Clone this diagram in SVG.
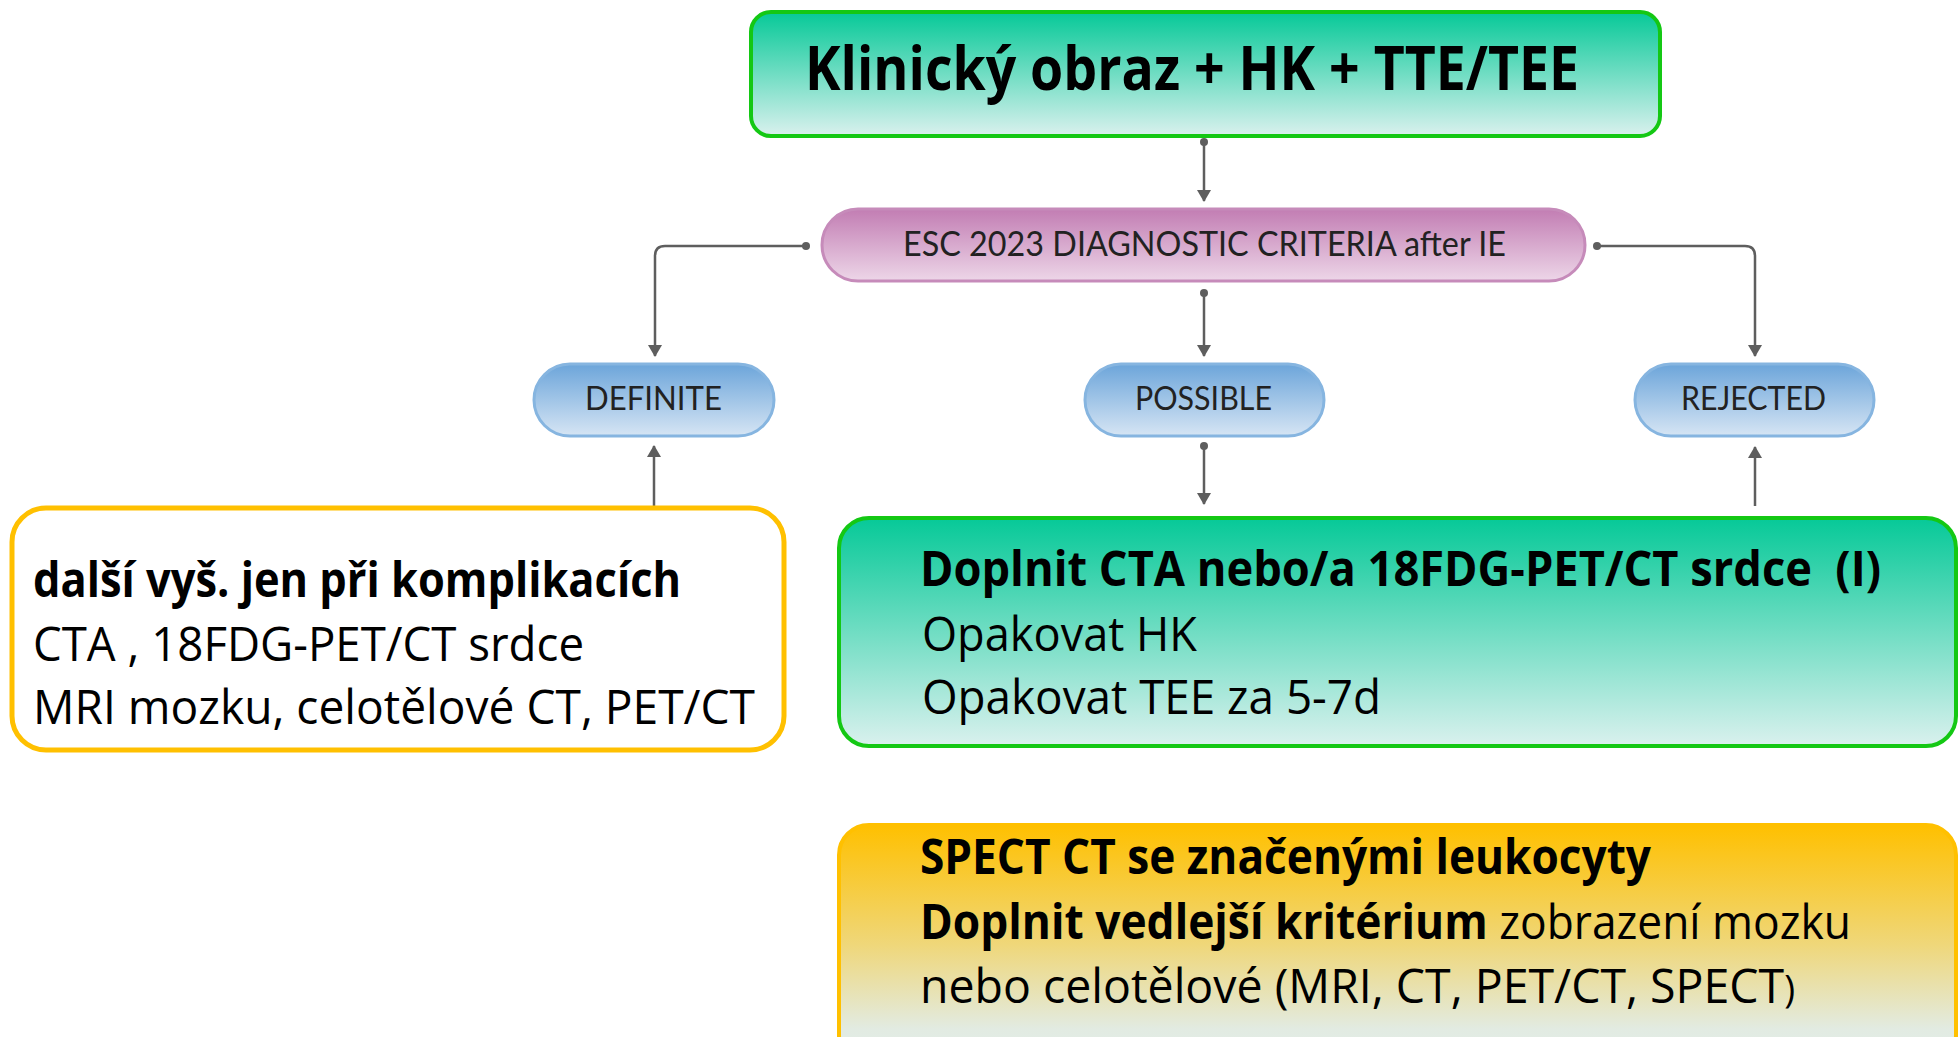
<svg xmlns="http://www.w3.org/2000/svg" width="1959" height="1037" viewBox="0 0 1959 1037">
<defs>
<linearGradient id="gGreen" x1="0" y1="0" x2="0" y2="1">
<stop offset="0" stop-color="#06C998"/>
<stop offset="1" stop-color="#DAF1EE"/>
</linearGradient>
<linearGradient id="gYellow" x1="0" y1="0" x2="0" y2="1">
<stop offset="0" stop-color="#FFC000"/>
<stop offset="0.5" stop-color="#EFD77A"/>
<stop offset="0.85" stop-color="#E2EBE2"/>
<stop offset="1" stop-color="#E2EEEA"/>
</linearGradient>
<linearGradient id="gPink" x1="0" y1="0" x2="0" y2="1">
<stop offset="0" stop-color="#C27DB3"/>
<stop offset="1" stop-color="#EDD6E8"/>
</linearGradient>
<linearGradient id="gBlue" x1="0" y1="0" x2="0" y2="1">
<stop offset="0" stop-color="#6CA5DA"/>
<stop offset="1" stop-color="#D6E5F4"/>
</linearGradient>
<marker id="arr" viewBox="0 0 12 14" refX="11" refY="7" markerWidth="12" markerHeight="14" markerUnits="userSpaceOnUse" orient="auto">
<path d="M0,0 L12,7 L0,14 Z" fill="#5E5E5E"/>
</marker>
</defs>
<style>
.cal{font-family:"Open Sans","Noto Sans",sans-serif;fill:#000}
.b{font-weight:bold}
.gill{font-family:Lato,"Open Sans",sans-serif;fill:#222222}
.con{fill:none;stroke:#5E5E5E;stroke-width:2.5}
.dot{fill:#5E5E5E}
.pill{fill:url(#gBlue);stroke:#86B5E0;stroke-width:3}
</style>
<rect width="1959" height="1037" fill="#FFFFFF"/>

<g id="connectors">
<circle class="dot" cx="1204" cy="142" r="4"/>
<line class="con" x1="1204" y1="142" x2="1204" y2="201" marker-end="url(#arr)"/>
<circle class="dot" cx="806" cy="246" r="4"/>
<path class="con" d="M806,246 H665 Q655,246 655,256 V356" marker-end="url(#arr)"/>
<circle class="dot" cx="1597" cy="246" r="4"/>
<path class="con" d="M1597,246 H1745 Q1755,246 1755,256 V356" marker-end="url(#arr)"/>
<circle class="dot" cx="1204" cy="293" r="4"/>
<line class="con" x1="1204" y1="293" x2="1204" y2="356" marker-end="url(#arr)"/>
<line class="con" x1="654" y1="506" x2="654" y2="446" marker-end="url(#arr)"/>
<circle class="dot" cx="1204" cy="446" r="4"/>
<line class="con" x1="1204" y1="446" x2="1204" y2="504" marker-end="url(#arr)"/>
<line class="con" x1="1755" y1="506" x2="1755" y2="447" marker-end="url(#arr)"/>
</g>

<g id="top">
<rect x="751" y="12" width="909" height="124" rx="20" fill="url(#gGreen)" stroke="#14C814" stroke-width="4"/>
<text class="cal b" x="805" y="90" font-size="61" textLength="774" lengthAdjust="spacingAndGlyphs">Klinický obraz + HK + TTE/TEE</text>
</g>

<g id="esc">
<rect x="822" y="209" width="763" height="72" rx="36" fill="url(#gPink)" stroke="#C68BBA" stroke-width="3"/>
<text class="gill" x="903" y="256" font-size="34" textLength="603" lengthAdjust="spacingAndGlyphs">ESC 2023 DIAGNOSTIC CRITERIA after IE</text>
</g>

<g id="definite">
<rect class="pill" x="534" y="364" width="240" height="72" rx="36"/>
<text class="gill" x="585" y="410" font-size="32" textLength="137" lengthAdjust="spacingAndGlyphs">DEFINITE</text>
</g>

<g id="possible">
<rect class="pill" x="1085" y="364" width="239" height="72" rx="36"/>
<text class="gill" x="1135" y="410" font-size="32" textLength="137" lengthAdjust="spacingAndGlyphs">POSSIBLE</text>
</g>

<g id="rejected">
<rect class="pill" x="1635" y="364" width="239" height="72" rx="36"/>
<text class="gill" x="1681" y="410" font-size="32" textLength="145" lengthAdjust="spacingAndGlyphs">REJECTED</text>
</g>

<g id="left-box">
<rect x="12" y="508" width="772" height="242" rx="34" fill="#FFFFFF" stroke="#FFC000" stroke-width="5"/>
<text class="cal b" x="33" y="597" font-size="48" textLength="648" lengthAdjust="spacingAndGlyphs">další vyš. jen při komplikacích</text>
<text class="cal" x="33" y="661" font-size="48" textLength="551" lengthAdjust="spacingAndGlyphs">CTA , 18FDG-PET/CT srdce</text>
<text class="cal" x="33" y="724" font-size="48" textLength="722" lengthAdjust="spacingAndGlyphs">MRI mozku, celotělové CT, PET/CT</text>
</g>

<g id="green-box">
<rect x="839" y="518" width="1117" height="228" rx="30" fill="url(#gGreen)" stroke="#14C814" stroke-width="4"/>
<text class="cal b" x="920" y="586" font-size="48" textLength="961" lengthAdjust="spacingAndGlyphs">Doplnit CTA nebo/a 18FDG-PET/CT srdce&#160; (I)</text>
<text class="cal" x="922" y="651" font-size="48" textLength="275" lengthAdjust="spacingAndGlyphs">Opakovat HK</text>
<text class="cal" x="922" y="714" font-size="48" textLength="459" lengthAdjust="spacingAndGlyphs">Opakovat TEE za 5-7d</text>
</g>

<g id="bottom-box">
<rect x="839" y="825" width="1117" height="240" rx="30" fill="url(#gYellow)" stroke="#FFC000" stroke-width="4"/>
<text class="cal b" x="920" y="874" font-size="48" textLength="731" lengthAdjust="spacingAndGlyphs">SPECT CT se značenými leukocyty</text>
<text class="cal" x="920" y="939" font-size="48" textLength="931" lengthAdjust="spacingAndGlyphs"><tspan class="b">Doplnit vedlejší kritérium</tspan> zobrazení mozku</text>
<text class="cal" x="920" y="1003" font-size="48" textLength="875" lengthAdjust="spacingAndGlyphs">nebo celotělové (MRI, CT, PET/CT, SPECT<tspan font-size="38">)</tspan></text>
</g>
</svg>
